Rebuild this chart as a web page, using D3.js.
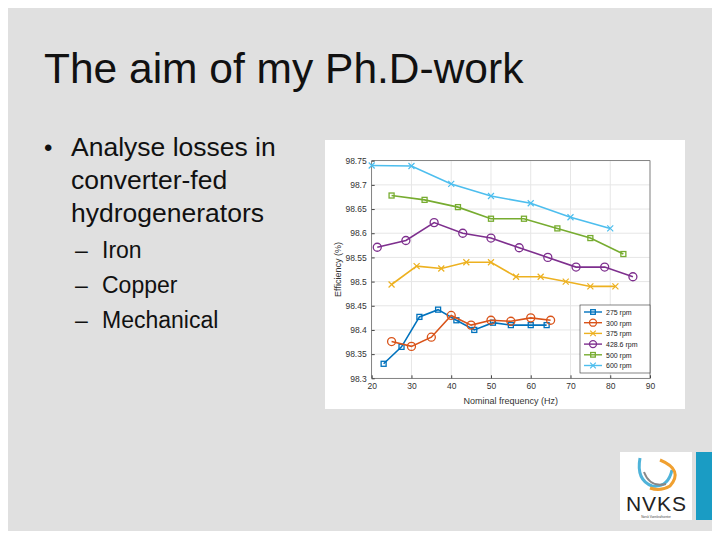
<!DOCTYPE html>
<html><head><meta charset="utf-8">
<script src="https://cdn.jsdelivr.net/npm/d3@7"></script>
<style>body{margin:0;background:#fff;font-family:Arial,"Liberation Sans",sans-serif}</style>
</head><body><div id="slide"></div>
<script>
var seriesNames = ["275 rpm","300 rpm","375 rpm","428.6 rpm","500 rpm","600 rpm"];
var seriesColors = ["#0072bd","#d95319","#edb120","#7e2f8e","#77ac30","#4dbeee"];
var seriesMarkers = ["square","circle","x","circle","square","x"];
var s275 = [[23,98.33],[27.5,98.365],[32,98.427],[36.7,98.442],[41.3,98.42],[45.8,98.40],[50.5,98.415],[55,98.41],[60,98.41],[64,98.41]];
var s300 = [[25,98.376],[30,98.366],[35,98.385],[40,98.43],[45,98.41],[50,98.42],[55,98.418],[60,98.425],[65,98.42]];
var s375 = [[25,98.494],[31.3,98.532],[37.5,98.527],[43.8,98.54],[50,98.54],[56.3,98.51],[62.5,98.51],[68.8,98.50],[75,98.49],[81.3,98.49]];
var s428 = [[21.4,98.571],[28.6,98.585],[35.7,98.622],[42.9,98.60],[50,98.59],[57.1,98.57],[64.3,98.55],[71.4,98.53],[78.6,98.53],[85.7,98.51]];
var s500 = [[25,98.678],[33.3,98.669],[41.7,98.654],[50,98.63],[58.3,98.63],[66.7,98.61],[75,98.59],[83.3,98.557]];
var s600 = [[20,98.74],[30,98.739],[40,98.702],[50,98.677],[60,98.662],[70,98.633],[80,98.61]];
var allSeries = [s275,s300,s375,s428,s500,s600];
var xTicks = [20,30,40,50,60,70,80,90];
var yTicks = [98.3,98.35,98.4,98.45,98.5,98.55,98.6,98.65,98.7,98.75];

var svg = d3.select("#slide").append("svg").attr("width",720).attr("height",540);
svg.append("rect").attr("x",8).attr("y",8).attr("width",704).attr("height",523).attr("fill","#e0e0e0");

svg.append("text").attr("x",44).attr("y",83).attr("font-size",42.5).attr("fill","#111").text("The aim of my Ph.D-work");
svg.append("text").attr("x",44).attr("y",156).attr("font-size",24).attr("fill","#111").text("•");
[["Analyse losses in",156],["converter-fed",189],["hydrogenerators",222]].forEach(function(t){
  svg.append("text").attr("x",71).attr("y",t[1]).attr("font-size",26.5).attr("fill","#111").text(t[0]);
});
[["Iron",258],["Copper",293],["Mechanical",328]].forEach(function(t){
  svg.append("text").attr("x",75).attr("y",t[1]).attr("font-size",23).attr("fill","#111").text("–");
  svg.append("text").attr("x",102).attr("y",t[1]).attr("font-size",23).attr("fill","#111").text(t[0]);
});

// chart panel
svg.append("rect").attr("x",325).attr("y",140).attr("width",360).attr("height",269).attr("fill","#fff");
var g = svg.append("g");
var x = d3.scaleLinear().domain([20,90]).range([371.7,650]);
var y = d3.scaleLinear().domain([98.3,98.75]).range([378.3,160.7]);

g.selectAll(".gx").data(xTicks).enter().append("line")
  .attr("x1",d=>x(d)).attr("x2",d=>x(d)).attr("y1",y(98.3)).attr("y2",y(98.75)).attr("stroke","#e6e6e6");
g.selectAll(".gy").data(yTicks).enter().append("line")
  .attr("y1",d=>y(d)).attr("y2",d=>y(d)).attr("x1",x(20)).attr("x2",x(90)).attr("stroke","#e6e6e6");
g.append("rect").attr("x",x(20)).attr("y",y(98.75)).attr("width",x(90)-x(20)).attr("height",y(98.3)-y(98.75))
  .attr("fill","none").attr("stroke","#444").attr("stroke-width",0.6);

var xa = g.append("g").attr("transform","translate(0,"+y(98.3)+")")
  .call(d3.axisBottom(x).tickValues(xTicks).tickSize(-3).tickPadding(5));
var ya = g.append("g").attr("transform","translate("+x(20)+",0)")
  .call(d3.axisLeft(y).tickValues(yTicks).tickSize(-3).tickPadding(5).tickFormat(d=>+d.toFixed(2)));
[xa,ya].forEach(function(a){
  a.select(".domain").remove();
  a.selectAll("line").attr("stroke","#444");
  a.selectAll("text").attr("font-size",8.5).attr("fill","#333").attr("font-family","Arial,sans-serif");
});
g.append("text").attr("x",(x(20)+x(90))/2).attr("y",404).attr("text-anchor","middle")
  .attr("font-size",9).attr("fill","#333").text("Nominal frequency (Hz)");
g.append("text").attr("transform","translate(341,"+(y(98.525))+") rotate(-90)").attr("text-anchor","middle")
  .attr("font-size",9).attr("fill","#333").text("Efficiency (%)");

function marker(sel, type, color, cx, cy, r){
  if(type==="square") sel.append("rect").attr("x",cx-r+0.5).attr("y",cy-r+0.5).attr("width",2*r-1).attr("height",2*r-1)
    .attr("fill","none").attr("stroke",color).attr("stroke-width",1.3);
  else if(type==="circle") sel.append("circle").attr("cx",cx).attr("cy",cy).attr("r",r)
    .attr("fill","none").attr("stroke",color).attr("stroke-width",1.3);
  else sel.append("path").attr("d","M"+(cx-r)+","+(cy-r)+"L"+(cx+r)+","+(cy+r)+"M"+(cx-r)+","+(cy+r)+"L"+(cx+r)+","+(cy-r))
    .attr("stroke",color).attr("stroke-width",1.2);
}
var line = d3.line().x(d=>x(d[0])).y(d=>y(d[1]));
allSeries.forEach(function(s,i){
  g.append("path").datum(s).attr("d",line).attr("fill","none").attr("stroke",seriesColors[i]).attr("stroke-width",1.6);
  s.forEach(function(d){
    var r = seriesMarkers[i]==="circle"?4:3;
    marker(g, seriesMarkers[i], seriesColors[i], x(d[0]), y(d[1]), r);
  });
});

// legend
var lx=580, ly=305, lh=10.7;
g.append("rect").attr("x",lx).attr("y",ly).attr("width",70).attr("height",68).attr("fill","#fff").attr("stroke","#333").attr("stroke-width",0.6);
seriesNames.forEach(function(n,i){
  var yy = ly+7+i*lh;
  g.append("line").attr("x1",lx+4).attr("x2",lx+22).attr("y1",yy).attr("y2",yy).attr("stroke",seriesColors[i]).attr("stroke-width",1.4);
  marker(g, seriesMarkers[i], seriesColors[i], lx+13, yy, seriesMarkers[i]==="circle"?3.5:2.8);
  g.append("text").attr("x",lx+26).attr("y",yy+2.8).attr("font-size",7).attr("fill","#222").text(n);
});

// logo
svg.append("rect").attr("x",620).attr("y",452).attr("width",72).attr("height",68).attr("fill","#fff");
svg.append("rect").attr("x",696).attr("y",452).attr("width",16).attr("height",68).attr("fill","#1a9cc4");
svg.append("path").attr("d","M640,458 Q636,480 652,486 Q668,488 672,470").attr("fill","none").attr("stroke","#4fb3d9").attr("stroke-width",3);
svg.append("path").attr("d","M660,460 Q684,470 670,486 Q660,492 650,488").attr("fill","none").attr("stroke","#f0a030").attr("stroke-width",3);
svg.append("path").attr("d","M644,472 Q650,488 666,484").attr("fill","none").attr("stroke","#888").attr("stroke-width",2);
svg.append("text").attr("x",656).attr("y",511).attr("text-anchor","middle").attr("font-size",21).attr("fill","#222")
  .attr("textLength",60).text("NVKS");
svg.append("text").attr("x",656).attr("y",518).attr("text-anchor","middle").attr("font-size",3).attr("fill","#444")
  .text("Norsk Vannkraftsenter");
</script></body></html>
